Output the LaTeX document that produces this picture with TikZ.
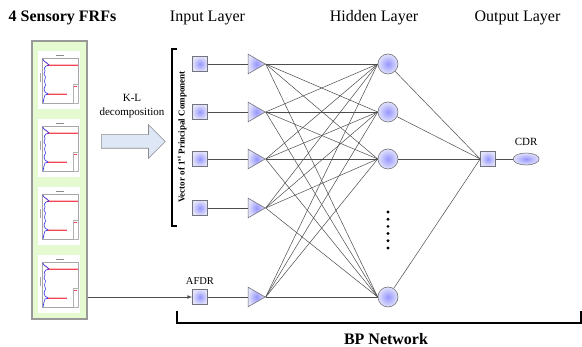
\documentclass[tikz,border=0pt]{standalone}
\usepackage{fontspec}
\setmainfont{Liberation Serif}
\usetikzlibrary{positioning}
\usetikzlibrary{calc}
\usetikzlibrary{arrows}
\usetikzlibrary{shapes.geometric}
\usetikzlibrary{shapes.arrows}
\definecolor{unitblue}{RGB}{150,150,255}
\definecolor{unitpale}{RGB}{226,226,250}
\definecolor{unitedge}{RGB}{115,115,125}
\definecolor{panelgreen}{RGB}{230,250,210}
\definecolor{arrowfill}{RGB}{222,231,245}
\definecolor{plotred}{RGB}{240,70,85}
\definecolor{plotblue}{RGB}{45,45,235}
\tikzset{
  unit/.style    = { draw=unitedge, line width=0.6pt, inner sep=0pt, inner color=unitblue, outer color=unitpale },
  inbox/.style   = { unit, rectangle, minimum size=15pt },
  relay/.style   = { unit, isosceles triangle, isosceles triangle apex angle=60, minimum width=17pt, minimum height=17pt },
  neuron/.style  = { unit, circle, minimum size=20pt },
  result/.style  = { unit, ellipse, minimum width=26pt, minimum height=12pt },
  panel/.style   = { rectangle, draw=black!40, fill=panelgreen, line width=1.5pt, minimum width=55pt, minimum height=278pt },
}
\tikzset{
  heading/.style = { font=\fontsize{16}{18}\selectfont },
  title/.style   = { font=\fontsize{16}{18}\selectfont\bfseries },
  caption/.style = { font=\fontsize{11}{14}\selectfont },
  link/.style    = { draw=black!70, line width=0.5pt },
  bracket/.style = { line width=1.4pt },
}
% one small FRF thumbnail, #1 = top edge
\newcommand{\frfplot}[1]{%
  \begin{scope}[shift={(38,#1)}]
    \fill[white] (0,0) rectangle (42,58);
    \draw[black!35, line width=0.3pt] (4,7) rectangle (40,52);
    \foreach \x in {9,15,...,39} \draw[black!35, line width=0.2pt] (\x,7) -- (\x,8.5);
    \draw[black!45, line width=0.4pt] (18,4) -- (26,4);
    \draw[black!35, line width=0.4pt] (2.3,22) -- (2.3,31);
    \draw[plotred!35, line width=2pt] (9,14) -- (40,14);
    \draw[plotred, line width=0.6pt] (9,14) -- (40,14);
    \draw[plotred!35, line width=1.6pt] (9,43) -- (29,43);
    \draw[plotred, line width=0.6pt] (9,43) -- (29,43);
    \draw[plotred!60, line width=0.5pt] (5,8) .. controls (7,12) .. (12,14);
    \draw[plotblue, line width=0.6pt] (4.5,8) -- (6,10) -- (9,12) -- (11,14) -- (8,15) -- (6.5,17)
      -- (7,20) -- (6,23) -- (7.5,26) -- (6.5,30) -- (7.5,34) -- (6,38) -- (7,41) -- (10,43)
      -- (7,44) -- (6,47) -- (5,52);
    \draw[black!30, line width=0.3pt] (35,33) rectangle (40,52);
    \draw[plotred, line width=0.4pt] (36,35.5) -- (38.5,35.5);
  \end{scope}}

\begin{document}
\begin{tikzpicture}[x=1pt, y=-1pt]
  \fill[white] (0,0) rectangle (582,347);
  \useasboundingbox (0,0) rectangle (582,347);

  \node (frftitle) [title]   at (62.5,18) {4 Sensory FRFs};
  \node (intitle)  [heading] at (207.5,18) {Input Layer};
  \node (hidtitle) [heading] at (374,18) {Hidden Layer};
  \node (outtitle) [heading] at (517.5,18) {Output Layer};

  \node (frfs) [panel] at (59.5,180) {};
  \foreach \t in {51,119,187,255} \frfplot{\t};

  \node (kl) [single arrow, draw=black!45, fill=arrowfill, line width=0.6pt,
              inner xsep=0pt, inner ysep=6.5pt, minimum height=64pt,
              single arrow head extend=10pt, anchor=tail] at (101,141.5) {};
  \node (kltext) [caption, align=center] at (132,106) {K-L\\decomposition};

  \node (in1)  [inbox] at (200,64)  {};
  \node (in2)  [inbox] at (200,112) {};
  \node (in3)  [inbox] at (200,159) {};
  \node (in4)  [inbox] at (200,208) {};
  \node (afdr) [inbox] at (200,297) {};
  \node (afdrtext) [font=\fontsize{10.5}{12}\selectfont, above=1pt of afdr] {AFDR};

  \foreach \i in {1,...,4} \node (t\i) [relay, right=40pt of in\i] {};
  \node (t5) [relay, right=40pt of afdr] {};

  \node (h1) [neuron] at (388,64)  {};
  \node (h2) [neuron] at (388,112) {};
  \node (h3) [neuron] at (388,159) {};
  \node (h4) [neuron] at (388,297) {};

  \node (out) [inbox] at (488,159) {};
  \node (cdr) [result, right=17pt of out] {};
  \node (cdrtext) [caption, above=4pt of cdr] {CDR};

  \foreach \i in {1,...,4} \draw [link] (in\i) -- (t\i);
  \draw [link] (afdr) -- (t5);
  \foreach \i in {1,...,5}
    \foreach \j in {1,...,4}
      \draw [link] (t\i.apex) -- (h\j.west);
  \foreach \j in {1,...,4} \draw [link] (h\j) -- (out.west);
  \draw [link] (out) -- (cdr);
  \draw [link, line width=0.7pt, -latex] (frfs.east |- afdr) -- (afdr);

  \foreach \k in {0,...,5} \fill (388,{212+7.2*\k}) circle (1.6pt);

  \draw [bracket] (177,49) -- (172,49) -- (172,226) -- (177,226);
  \node (pcvector) [font=\fontsize{9}{10}\selectfont\bfseries, rotate=90] at (182,137)
    {Vector of 1\textsuperscript{st} Principal Component};

  \draw [bracket] (177,311) -- (177,323) -- (581,323) -- (581,311);
  \node (bpnet) [title] at (386,339) {BP Network};
\end{tikzpicture}
\end{document}
